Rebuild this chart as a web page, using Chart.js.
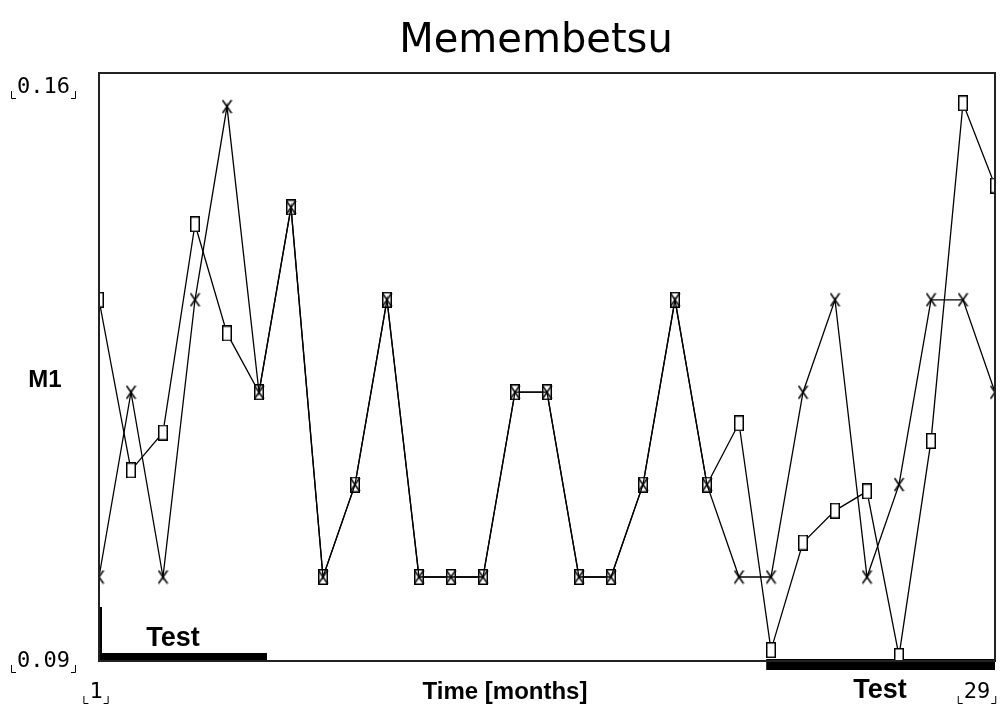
<!DOCTYPE html>
<html lang="en">
<head>
    <meta charset="UTF-8">
    <title>Memembetsu</title>
    <script src="https://cdn.jsdelivr.net/npm/chart.js"></script>
    <style>
        body {
            margin: 0;
            padding: 0;
            background-color: #ffffff;
            overflow: hidden;
        }
        #chart-box {
            width: 1002px;
            height: 704px;
        }
    </style>
</head>
<body>
    <div id="chart-box">
        <canvas id="m1-chart" width="1002" height="704"></canvas>
    </div>

    <script>
        // months on the x axis
        const months = [1, 2, 3, 4, 5, 6, 7, 8, 9, 10, 11, 12, 13, 14, 15,
                        16, 17, 18, 19, 20, 21, 22, 23, 24, 25, 26, 27, 28, 29];

        // series drawn with X markers
        const seriesCross = [0.100, 0.122, 0.100, 0.133, 0.156, 0.122, 0.144, 0.100, 0.111, 0.133,
                             0.100, 0.100, 0.100, 0.122, 0.122, 0.100, 0.100, 0.111, 0.133, 0.111,
                             0.100, 0.100, 0.122, 0.133, 0.100, 0.111, 0.133, 0.133, 0.122];

        // series drawn with box markers
        const seriesBox = [0.133, 0.1127, 0.1172, 0.142, 0.129, 0.122, 0.144, 0.100, 0.111, 0.133,
                           0.100, 0.100, 0.100, 0.122, 0.122, 0.100, 0.100, 0.111, 0.133, 0.111,
                           0.1183, 0.0913, 0.1041, 0.1079, 0.1102, 0.0906, 0.1162, 0.1564, 0.1466];

        // axis range and tick labels
        const yTicks = [0.09, 0.16];
        const yTickLabels = ['0.09', '0.16'];
        const xTicks = [1, 29];
        const xTickLabels = ['1', '29'];

        // test periods (start month, end month)
        const testStart = [1, 21.85];
        const testEnd = [6.25, 29];

        function makeBox() {
            let c = document.createElement('canvas');
            c.width = 10;
            c.height = 16;
            let g = c.getContext('2d');
            g.fillStyle = '#ffffff';
            g.fillRect(0, 0, 10, 16);
            g.strokeStyle = '#000000';
            g.lineWidth = 1.5;
            g.strokeRect(0.75, 0.75, 8.5, 14.5);
            return c;
        }

        function makeCross() {
            let c = document.createElement('canvas');
            c.width = 11;
            c.height = 15;
            let g = c.getContext('2d');
            g.strokeStyle = '#000000';
            g.lineWidth = 1.5;
            g.beginPath();
            g.moveTo(1, 1); g.lineTo(10, 14);
            g.moveTo(10, 1); g.lineTo(1, 14);
            g.stroke();
            return c;
        }

        // brackets under a tick label, like the original plot
        function corners(ctx, x0, x1, base) {
            ctx.beginPath();
            ctx.moveTo(x0 - 5.5, base - 2);
            ctx.lineTo(x0 - 5.5, base + 5.5);
            ctx.lineTo(x0 - 1, base + 5.5);
            ctx.moveTo(x1 + 5.5, base - 2);
            ctx.lineTo(x1 + 5.5, base + 5.5);
            ctx.lineTo(x1 + 1, base + 5.5);
            ctx.stroke();
        }

        const decorPlugin = {
            id: 'decor',
            beforeDatasetsDraw(chart) {
                const ctx = chart.ctx;
                const xs = chart.scales.x;
                const a = chart.chartArea;
                ctx.save();
                // test period bars along the bottom edge
                ctx.fillStyle = '#000000';
                let x0 = xs.getPixelForValue(testStart[0]);
                let x1 = xs.getPixelForValue(testEnd[0]);
                ctx.fillRect(x0, a.bottom - 8, x1 - x0, 8);
                ctx.fillRect(x0, a.bottom - 54, 3, 54);
                x0 = xs.getPixelForValue(testStart[1]);
                x1 = xs.getPixelForValue(testEnd[1]);
                ctx.fillRect(x0, a.bottom - 2, x1 - x0, 11);
                ctx.restore();
                // keep lines and markers inside the frame
                ctx.save();
                ctx.beginPath();
                ctx.rect(a.left, a.top, a.right - a.left, a.bottom - a.top);
                ctx.clip();
            },
            afterDatasetsDraw(chart) {
                chart.ctx.restore();
            },
            afterDraw(chart) {
                const ctx = chart.ctx;
                const xs = chart.scales.x;
                const ys = chart.scales.y;
                const a = chart.chartArea;
                ctx.save();

                // frame
                ctx.strokeStyle = '#222222';
                ctx.lineWidth = 2;
                ctx.strokeRect(a.left, a.top, a.right - a.left, a.bottom - a.top);

                // title
                ctx.fillStyle = '#000000';
                ctx.textAlign = 'center';
                ctx.textBaseline = 'alphabetic';
                ctx.font = '40px "DejaVu Sans"';
                ctx.fillText('Memembetsu', 536, 52);

                // axis titles
                ctx.font = 'bold 24px "Liberation Sans"';
                ctx.fillText('M1', 45, 387);
                ctx.fillText('Time [months]', 505, 699);
                ctx.font = 'bold 27px "Liberation Sans"';
                ctx.fillText('Test', 173, 646);
                ctx.fillText('Test', 880, 698);

                // tick labels with corner marks
                ctx.font = '22px "DejaVu Sans Mono"';
                ctx.textAlign = 'left';
                ctx.lineWidth = 1;
                ctx.strokeStyle = '#000000';
                for (let i = 0; i < yTicks.length; i++) {
                    let base = ys.getPixelForValue(yTicks[i]) + (i === 0 ? 6 : 20);
                    let w = ctx.measureText(yTickLabels[i]).width;
                    ctx.fillText(yTickLabels[i], 17, base);
                    corners(ctx, 17, 17 + w, base);
                }
                ctx.textAlign = 'center';
                for (let i = 0; i < xTicks.length; i++) {
                    let cx = xs.getPixelForValue(xTicks[i]) + (i === 0 ? -3 : -18);
                    let w = ctx.measureText(xTickLabels[i]).width;
                    ctx.fillText(xTickLabels[i], cx, 698);
                    corners(ctx, cx - w / 2, cx + w / 2, 698);
                }
                ctx.restore();
            }
        };

        const boxImg = makeBox();
        const crossImg = makeCross();

        let ctx = document.getElementById('m1-chart').getContext('2d');
        let chart = new Chart(ctx, {
            type: 'line',
            data: {
                labels: months,
                datasets: [{
                    label: 'Box',
                    data: months.map((m, i) => ({ x: m, y: seriesBox[i] })),
                    borderColor: '#000000',
                    borderWidth: 1.3,
                    pointStyle: boxImg,
                    tension: 0,
                    clip: 0,
                    order: 2
                }, {
                    label: 'Cross',
                    data: months.map((m, i) => ({ x: m, y: seriesCross[i] })),
                    borderColor: '#000000',
                    borderWidth: 1.3,
                    pointStyle: crossImg,
                    tension: 0,
                    clip: 0,
                    order: 1
                }]
            },
            options: {
                responsive: false,
                animation: false,
                devicePixelRatio: 1,
                layout: {
                    padding: { left: 99, right: 7, top: 73, bottom: 43 }
                },
                scales: {
                    x: { type: 'linear', min: 1, max: 29, display: false },
                    y: { min: 0.09, max: 0.16, display: false }
                },
                plugins: {
                    legend: { display: false },
                    tooltip: { enabled: false }
                }
            },
            plugins: [decorPlugin]
        });
    </script>
</body>
</html>
